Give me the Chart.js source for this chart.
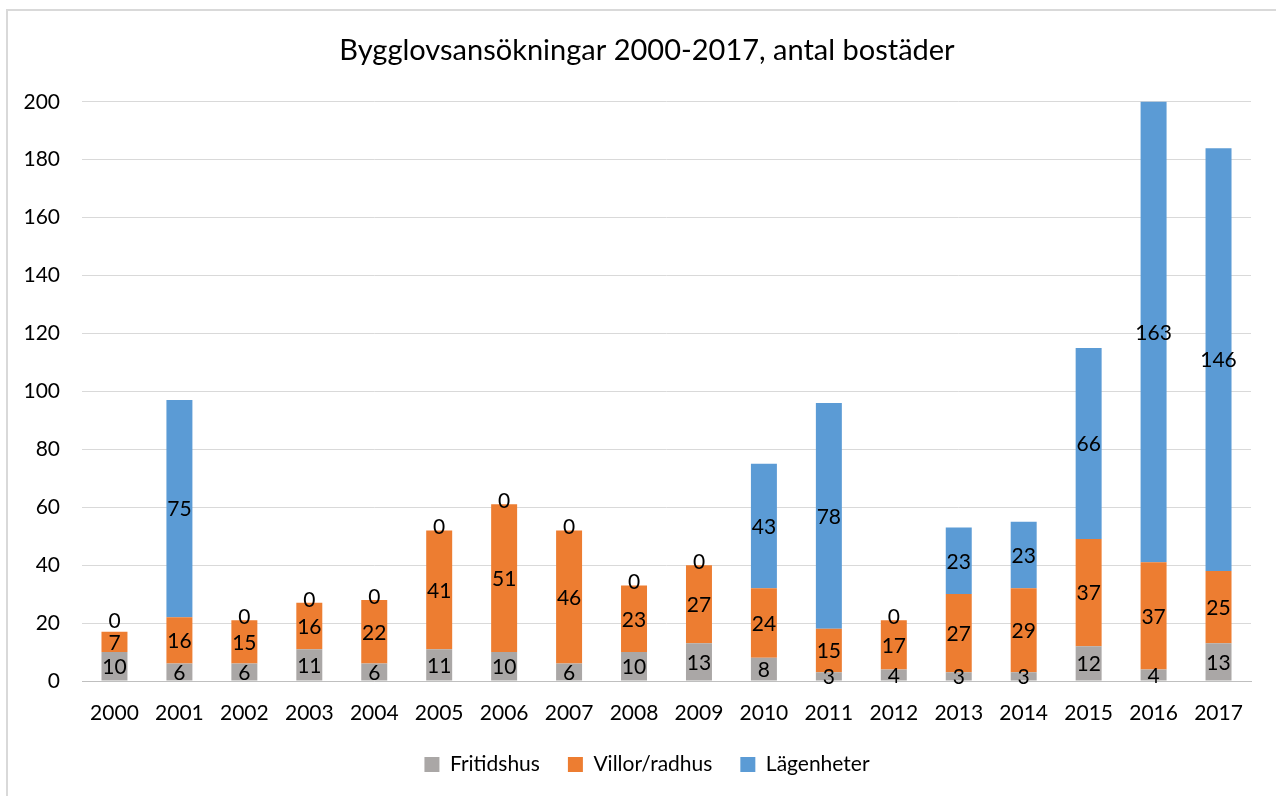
<!DOCTYPE html>
<html>
<head>
<meta charset="utf-8">
<script src="https://cdn.jsdelivr.net/npm/chart.js@4.4.0/dist/chart.umd.min.js"></script>
<style>
  html, body { margin: 0; padding: 0; background: #fff; }
  #wrap { position: absolute; left: 0; top: 0; width: 1276px; height: 796px; }
</style>
</head>
<body>
<div id="wrap"><canvas id="barChart" width="1276" height="796"></canvas></div>
<script>
'use strict';

// Years and series (antal bostäder)
const years = ['2000', '2001', '2002', '2003', '2004', '2005', '2006', '2007', '2008',
               '2009', '2010', '2011', '2012', '2013', '2014', '2015', '2016', '2017'];
const fritidshus = [10, 6, 6, 11, 6, 11, 10, 6, 10, 13, 8, 3, 4, 3, 3, 12, 4, 13];
const villor = [7, 16, 15, 16, 22, 41, 51, 46, 23, 27, 24, 15, 17, 27, 29, 37, 37, 25];
const lagenheter = [0, 75, 0, 0, 0, 0, 0, 0, 0, 0, 43, 78, 0, 23, 23, 66, 163, 146];
const yTicks = [0, 20, 40, 60, 80, 100, 120, 140, 160, 180, 200];

const FONT = 'Lato, "Open Sans", sans-serif';

// frame around the whole chart
const frame = {
    id: 'frame',
    beforeDraw(chart) {
        const ctx = chart.ctx;
        ctx.save();
        ctx.fillStyle = '#fff';
        ctx.fillRect(0, 0, chart.width, chart.height);
        ctx.strokeStyle = '#d9d9d9';
        ctx.lineWidth = 2;
        ctx.strokeRect(7, 10, chart.width + 20, chart.height + 20);
        ctx.restore();
    }
};

// value labels centred in each segment
const segmentLabels = {
    id: 'segmentLabels',
    afterDatasetsDraw(chart) {
        const ctx = chart.ctx;
        const area = chart.chartArea;
        ctx.save();
        ctx.font = '21px ' + FONT;
        ctx.fillStyle = '#000';
        ctx.textAlign = 'center';
        ctx.textBaseline = 'middle';
        const lastY = {};
        chart.data.datasets.forEach((ds, i) => {
            const meta = chart.getDatasetMeta(i);
            meta.data.forEach((bar, j) => {
                const v = ds.data[j];
                const top = Math.max(Math.min(bar.y, bar.base), area.top);
                const bottom = Math.min(Math.max(bar.y, bar.base), area.bottom);
                let y = (top + bottom) / 2;
                if (v === 0) {
                    y = top - 4;
                    // keep clear of the label just below
                    if (lastY[j] !== undefined) y = Math.min(y, lastY[j] - 22);
                }
                lastY[j] = y;
                ctx.fillText(String(v), bar.x, y + 1);
            });
        });
        ctx.restore();
    }
};

new Chart(document.getElementById('barChart').getContext('2d'), {
    type: 'bar',
    data: {
        labels: years,
        datasets: [
            { label: 'Fritidshus', data: fritidshus, backgroundColor: '#aaa7a6' },
            { label: 'Villor/radhus', data: villor, backgroundColor: '#ed7d31' },
            { label: 'Lägenheter', data: lagenheter, backgroundColor: '#5b9bd5' }
        ]
    },
    options: {
        responsive: false,
        animation: false,
        layout: { padding: { left: 18, right: 0, top: 0, bottom: 11 } },
        datasets: {
            bar: { barPercentage: 0.4, categoryPercentage: 1.0 }
        },
        scales: {
            x: {
                stacked: true,
                afterFit: scale => { scale.height = 45; },
                grid: { display: false, drawTicks: false },
                border: { color: '#bfbfbf', width: 1 },
                ticks: { color: '#000', font: { family: FONT, size: 21 }, padding: 20, maxRotation: 0 }
            },
            y: {
                stacked: true,
                min: 0,
                max: 200,
                afterBuildTicks: scale => { scale.ticks = yTicks.map(v => ({ value: v })); },
                afterFit: scale => { scale.width = 64; },
                grid: { color: '#d9d9d9', drawTicks: false },
                border: { display: false },
                ticks: { color: '#000', font: { family: FONT, size: 21 }, padding: 22 }
            },
            // empty right-hand axis, only keeps a margin at the right
            yRight: {
                position: 'right',
                afterFit: scale => { scale.width = 25; },
                grid: { display: false },
                border: { display: false },
                ticks: { display: false }
            }
        },
        plugins: {
            title: {
                display: true,
                text: 'Bygglovsansökningar 2000-2017, antal bostäder',
                color: '#000',
                font: { family: FONT, size: 29, weight: 'normal' },
                padding: { top: 33, bottom: 34 }
            },
            legend: {
                position: 'bottom',
                labels: {
                    color: '#000',
                    font: { family: FONT, size: 21 },
                    boxWidth: 15,
                    boxHeight: 15,
                    padding: 28
                }
            },
            tooltip: { enabled: false }
        }
    },
    plugins: [frame, segmentLabels]
});
</script>
</body>
</html>
